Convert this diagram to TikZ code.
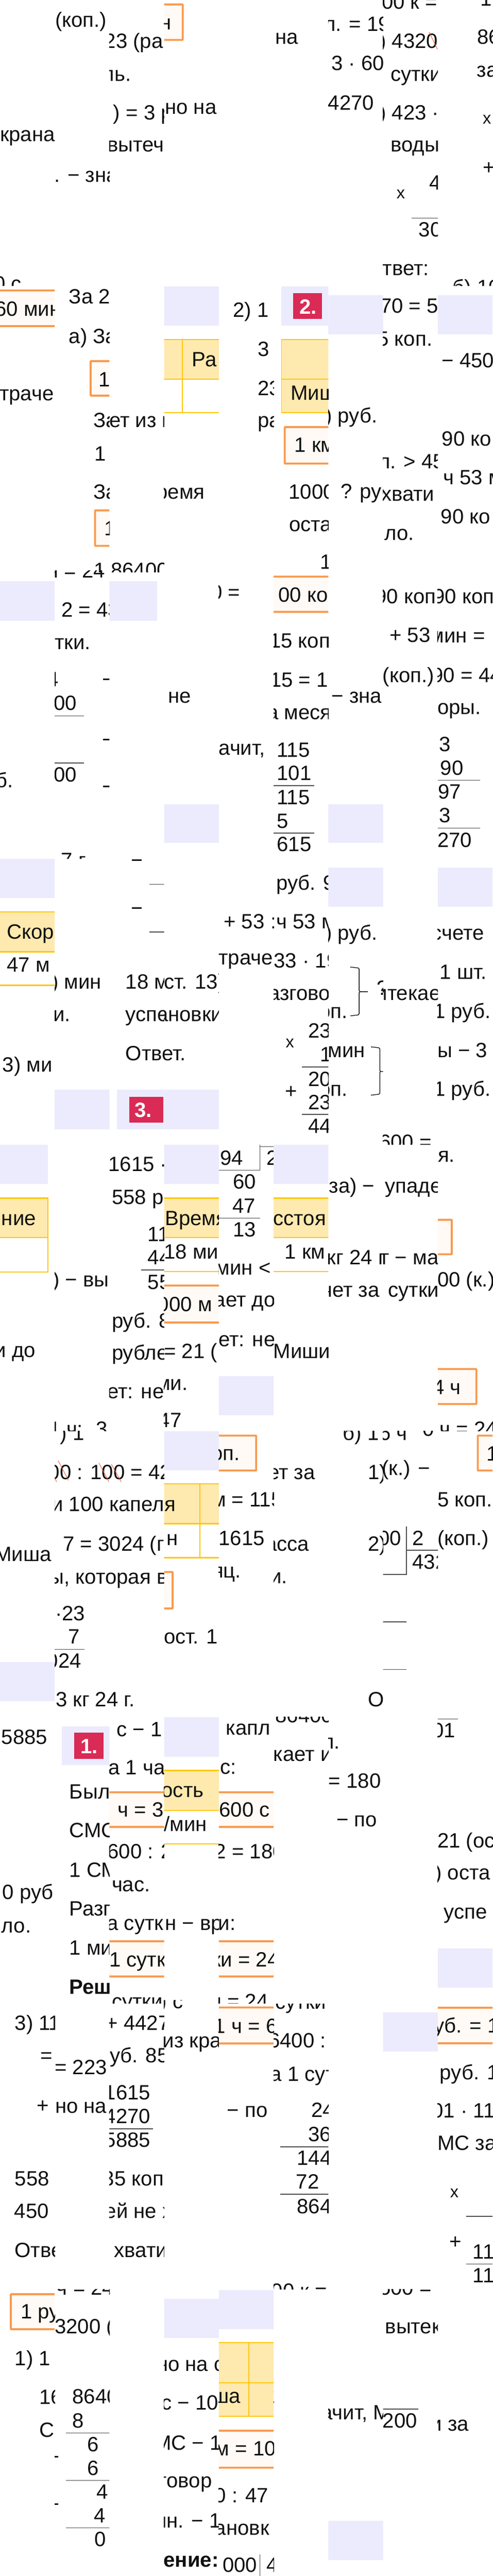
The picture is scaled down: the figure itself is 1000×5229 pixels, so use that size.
\documentclass[tikz,border=0pt]{standalone}
\usepackage{fontspec}
\setmainfont{Liberation Sans}
\definecolor{lav}{HTML}{ECEBFD}
\definecolor{yel}{HTML}{FEE9AE}
\definecolor{yelb}{HTML}{FFC60B}
\definecolor{ora}{HTML}{F99A4E}
\definecolor{orf}{HTML}{FFFAF5}
\definecolor{rbox}{HTML}{D92B55}
\definecolor{strike}{HTML}{F0583C}
\definecolor{ink}{HTML}{111111}
\newcounter{tn}
\tikzset{
 x=1pt,y=-1pt,
 tx/.style={anchor=base west,inner sep=0pt,outer sep=0pt,text=ink,font=\fontsize{42}{50}\selectfont},
 txb/.style={tx,font=\fontsize{42}{50}\selectfont\bfseries},
 txw/.style={anchor=base west,inner sep=0pt,text=white,font=\fontsize{42}{50}\selectfont\bfseries},
 txx/.style={tx,font=\fontsize{34}{38}\selectfont},
 obox/.style={draw=ora,line width=4pt,fill=orf,rounded corners=1pt},
 yline/.style={draw=yelb,line width=2.4pt},
 yvert/.style={draw=yelb,line width=2pt},
 mline/.style={draw=black!70,line width=1.5pt},
 brace/.style={draw=ink,line width=1.4pt,rounded corners=2pt},
 slash/.style={draw=strike,line width=1pt}
}
\newcommand\T[3]{\stepcounter{tn}\node[tx] (t\thetn) at (#1,#2) {#3};}
\newcommand\TB[3]{\stepcounter{tn}\node[txb] (t\thetn) at (#1,#2) {#3};}
\newcommand\TW[3]{\stepcounter{tn}\node[txw] (t\thetn) at (#1,#2) {#3};}
\newcommand\TX[2]{\stepcounter{tn}\node[txx] (t\thetn) at (#1,#2) {x};}
\newcommand\Tc[5]{\begin{scope}\clip (-50,#1) rectangle (1050,#2);\stepcounter{tn}\node[tx] (t\thetn) at (#3,#4) {#5};\end{scope}}
\newcommand\Lav[4]{\fill[lav] (#1,#3) rectangle (#2,#4);}
\newcommand\Yel[4]{\fill[yel] (#1,#3) rectangle (#2,#4);}
\newcommand\Hl[3]{\draw[mline] (#1,#3) -- (#2,#3);}
\newcommand\Yl[3]{\draw[yline] (#1,#3) -- (#2,#3);}
\newcommand\Oband[4]{\draw[obox] (#1,#3) rectangle (#2,#4);}
\newcommand\Dash[3]{\fill[ink] (#1,#3-1.5) rectangle (#2,#3+1.5);}
\newenvironment{colm}[1]{\begin{scope}\clip ({#1*111.111},0) rectangle ({(#1+1)*111.111},5229);}{\end{scope}}
\begin{document}
\begin{tikzpicture}
\useasboundingbox (0,0) rectangle (1000,5229);
\fill[white] (0,0) rectangle (1000,5229);

% ---------- column 0
\begin{colm}{0}
\Lav{-5}{120}{1180}{1260}
\Lav{-5}{120}{1743}{1823}
\Lav{-5}{97}{2324}{2403}
\Lav{-5}{120}{3374}{3453}
\Oband{-20}{130}{589.5}{662}
\Yel{-5}{120}{1850}{1933}
\Yl{-5}{120}{1851}\Yl{-5}{120}{1932}\Yl{-5}{120}{2000}
\Yel{-5}{97}{2431}{2513}
\Yl{-5}{98}{2432}\Yl{-5}{98}{2512}\Yl{-5}{98}{2582}
\draw[yvert] (97,2431) -- (97,2582);
\Oband{22}{300}{4657}{4728}
\Tc{500}{580}{-12}{590}{0 с}
\T{-10}{642}{60 мин}
\T{0}{287}{крана}
\T{-1}{813}{траче}
\T{-9}{1599}{б.}
\T{14}{1906}{Скор}
\T{14}{1973}{47 м}
\T{5}{2176}{3) ми}
\T{3}{2487}{ние}
\T{-11}{2755}{и до}
\T{-11}{3169}{Миша}
\T{3}{3540}{5885}
\T{5}{3855}{0 руб}
\T{3}{3923}{ло.}
\T{30}{4121}{3) 11}
\T{82}{4187}{=}
\T{75}{4288}{+}
\T{30}{4437}{558}
\T{29}{4503}{450}
\T{30}{4582}{Ответ}
\T{42}{4707}{1 руб}
\T{30}{4802}{1) 1}
\T{80}{4880}{16}
\T{80}{4947}{СМ}
\end{colm}

% ---------- column 1
\begin{colm}{1}
\Lav{100}{240}{2212}{2292}
\Lav{126}{240}{3504}{3583}
\fill[rbox] (151,3517) rectangle (210,3570);
\draw[obox] (184,733) rectangle (300,803);
\draw[obox] (193,1036) rectangle (300,1108);
\T{112}{55}{(коп.)}
\T{110}{370}{. − зна}
\T{140}{616}{За 2}
\T{140}{697}{а) За}
\T{200}{785}{1}
\T{190}{868}{За}
\T{192}{935}{1}
\T{190}{1013}{За}
\T{212}{1087}{1}
\Tc{1100}{1161}{191}{1172}{1}
\Tc{1158}{1200}{97}{1173}{ч = 24}
\T{125}{1252}{2 = 43}
\T{111}{1318}{тки.}
\T{96}{1393}{4}
\T{109}{1442}{00}
\Hl{100}{170}{1453}
\Hl{100}{170}{1549}
\T{109}{1587}{00}
\Dash{209}{230}{1379}\Dash{209}{230}{1501}\Dash{209}{230}{1596}
\Tc{1700}{1743}{124}{1761}{7 г}
\T{105}{2007}{) мин}
\T{108}{2073}{и.}
\T{107}{2612}{) − вы}
\Tc{2860}{2905}{100}{2915}{1 ч:}
\Tc{2860}{2905}{195}{2915}{3}
\Tc{2905}{2960}{122}{2923}{) 1}
\T{98}{3003}{00 : 100 = 42}
\T{105}{3068}{и 100 капеля}
\draw[slash] (118,2965) -- (139,3005);
\draw[slash] (111,3000) -- (115,3008);
\draw[slash] (201,2970) -- (221,3008);
\T{128}{3148}{7 = 3024 (г}
\T{100}{3215}{ы, которая в}
\T{112}{3290}{·23}
\T{139}{3337}{7}
\Hl{100}{172}{3348}
\T{95}{3386}{024}
\T{113}{3464}{3 кг 24 г.}
\TW{163}{3559}{1.}
\T{141}{3651}{Было}
\T{141}{3730}{СМС}
\T{141}{3810}{1 СМС}
\T{141}{3889}{Разг}
\T{141}{3968}{1 ми}
\TB{141}{4048}{Реш}
\T{111}{4211}{= 223}
\T{112}{4289}{но на}
\Tc{4647}{4700}{115}{4658}{ч = 24}
\T{111}{4737}{3200 (}
\T{147}{4879}{86400}
\T{147}{4928}{8}
\Hl{134}{240}{4939}
\T{177}{4976}{6}
\Dash{111}{118}{4987}
\T{177}{5024}{6}
\Hl{134}{240}{5035}
\T{196}{5073}{4}
\Dash{111}{118}{5083}
\T{191}{5121}{4}
\Hl{134}{240}{5131}
\T{192}{5169}{0}
\end{colm}

% ---------- column 2
\begin{colm}{2}
\Lav{222}{319}{1180}{1260}
\Lav{237}{350}{2212}{2292}
\fill[rbox] (262,2226) rectangle (332,2279);
\Oband{200}{350}{3638}{3708.5}
\Oband{200}{350}{3940.5}{4012}
\T{212}{98}{23 (ра}
\T{208}{165}{ль.}
\T{230}{243}{) = 3 р}
\T{218}{308}{вытеч}
\T{222}{868}{ет из к}
\Tc{1100}{1161}{225}{1172}{86400}
\Dash{268}{288}{1746}\Dash{268}{288}{1843}
\Hl{303}{340}{1795}\Hl{303}{340}{1892}
\T{255}{2007}{18 м}
\T{255}{2073}{успел}
\T{255}{2153}{Ответ.}
\TW{273}{2268}{3.}
\T{220}{2378}{1615 ·}
\T{227}{2445}{558 р}
\T{300}{2520}{11}
\T{300}{2567}{44}
\Hl{287}{340}{2578}
\T{300}{2617}{55}
\T{227}{2695}{руб. 8}
\T{227}{2760}{рубле}
\T{218}{2839}{ет: не}
\T{98}{3003}{00 : 100 = 42}
\draw[slash] (201,2970) -- (221,3008);
\draw[slash] (226,2972) -- (246,3008);
\T{105}{3068}{и 100 капеля}
\T{128}{3148}{7 = 3024 (г}
\T{100}{3215}{ы, которая в}
\T{113}{3464}{3 кг 24 г.}
\T{237}{3525}{с − 1}
\T{220}{3602}{а 1 час}
\T{239}{3688}{ч = 36}
\T{218}{3773}{600 : 2}
\T{227}{3840}{час.}
\T{217}{3918}{а сутк}
\T{222}{3992}{1 сутк}
\Tc{4000}{4067}{227}{4077}{сутки}
\T{215}{4121}{+ 4427}
\T{200}{4187}{руб. 85}
\T{212}{4262}{1615}
\T{212}{4310}{4270}
\Hl{210}{311}{4321}
\T{212}{4358}{5885}
\T{209}{4437}{35 коп}
\T{213}{4503}{ей не х}
\T{232}{4582}{хвати}
\end{colm}

% ---------- column 3
\begin{colm}{3}
\draw[obox] (300,9) rectangle (371,81);
\Lav{320}{450}{581}{661}
\Yel{320}{450}{688}{770}
\Yl{320}{450}{689}\Yl{320}{450}{770}\Yl{320}{450}{838}
\draw[yvert] (370,688) -- (370,838);
\Lav{320}{450}{1632}{1711}
\Lav{320}{450}{2212}{2292}
\Lav{320}{450}{2324}{2403}
\Yel{320}{450}{2431}{2513}
\Yl{320}{450}{2432}\Yl{320}{450}{2512}\Yl{320}{450}{2581}
\Oband{300}{460}{2609.5}{2684.5}
\Lav{320}{450}{2905}{2985}
\Yel{320}{450}{3011}{3093}
\Yl{320}{450}{3012}\Yl{320}{450}{3093}\Yl{320}{450}{3162}
\draw[yvert] (406,3011) -- (406,3162);
\draw[obox] (300,3191) rectangle (350.5,3265);
\Lav{320}{450}{3486}{3566}
\Yel{320}{450}{3593}{3675}
\Yl{320}{450}{3594}\Yl{320}{450}{3675}\Yl{320}{450}{3743}
\Lav{320}{450}{4666}{4746}
\T{325}{60}{н}
\T{335}{232}{но на}
\T{390}{744}{Ра}
\T{295}{1013}{время}
\T{341}{1427}{не}
\T{333}{2007}{ст. 13)}
\T{318}{2073}{ановки}
\T{255}{2153}{Ответ.}
\T{335}{2487}{Время}
\T{333}{2555}{18 мин}
\T{320}{2662}{000 м}
\T{333}{2757}{= 21 (}
\T{317}{2822}{ми.}
\T{322}{2897}{47}
\T{105}{3068}{и 100 капеля}
\T{338}{3137}{н}
\T{333}{3337}{ост. 1}
\T{328}{3648}{ость}
\T{333}{3717}{/мин}
\T{335}{3918}{н − вр}
\Tc{4060}{4085}{325}{4077}{) с}
\T{330}{4156}{из кра}
\T{318}{4813}{но на с}
\T{328}{4892}{с − 10}
\T{313}{4973}{МС − 1}
\T{324}{5050}{говор}
\T{315}{5131}{ин. − 1}
\TB{297}{5211}{шение:}
\end{colm}

% ---------- column 4
\begin{colm}{4}
\Lav{430}{560}{2793}{2873}
\draw[obox] (400,2914) rectangle (520,2985);
\Oband{430}{570}{3638}{3708.5}
\Oband{430}{570}{3940.5}{4012}
\Oband{430}{570}{4075}{4148}
\Lav{430}{560}{4648}{4728}
\Yel{430}{560}{4754}{4905}
\Yl{430}{560}{4755}\Yl{430}{560}{4837}\Yl{430}{560}{4905}
\draw[yvert] (505,4754) -- (505,4905);
\Oband{430}{570}{4934}{5009}
\T{473}{644}{2) 1}
\T{523}{723}{3}
\T{523}{803}{23}
\T{523}{868}{ра}
\T{428}{1217}{0 =}
\T{444}{1533}{ачит,}
\T{454}{1885}{+ 53}
\T{550}{1885}{:}
\T{444}{1958}{траче}
\draw[mline,line width=1pt] (528,2327) -- (560,2327);
\draw[mline,line width=1pt] (528,2324) -- (528,2376) -- (430,2376);
\T{447}{2365}{94}
\T{541}{2365}{2}
\T{473}{2413}{60}
\T{472}{2462}{47}
\Hl{430}{528}{2473}
\T{473}{2510}{13}
\T{438}{2588}{мин <}
\T{435}{2653}{ает до}
\T{444}{2733}{ет: не}
\T{410}{2964}{коп.}
\T{430}{3058}{м = 115}
\T{444}{3137}{1615}
\T{431}{3203}{яц.}
\T{459}{3522}{капл}
\T{447}{3601}{с:}
\T{445}{3688}{600 с}
\T{436}{3773}{2 = 180}
\T{425}{3918}{ки:}
\T{430}{3992}{ки = 24}
\Tc{4000}{4067}{428}{4077}{ч = 24}
\T{435}{4127}{1 ч = 60}
\T{461}{4298}{− по}
\T{373}{4878}{Миша}
\T{553}{4878}{1}
\T{437}{4985}{м = 10}
\T{436}{5080}{0 : 47}
\T{436}{5146}{ановк}
\T{452}{5221}{000}
\draw[mline,line width=1pt] (528,5185) -- (528,5229);
\T{541}{5221}{4}
\end{colm}

% ---------- column 5
\begin{colm}{5}
\Lav{571}{680}{581}{661}
\fill[rbox] (595,595) rectangle (654,647);
\Yel{571}{680}{688}{838}
\Yl{571}{680}{689}\Yl{571}{680}{770}\Yl{571}{680}{838}
\draw[yvert] (571.5,688) -- (571.5,838);
\draw[obox] (578,867) rectangle (700,941);
\Oband{540}{680}{1170.5}{1242}
\Lav{540}{680}{2324}{2403}
\Yel{540}{680}{2431}{2513}
\Yl{540}{680}{2432}\Yl{540}{680}{2512}\Yl{540}{680}{2581}
\T{535}{89}{ина}
\TW{608}{637}{2.}
\T{590}{812}{Миша}
\T{598}{918}{1 км}
\T{586}{1013}{1000}
\T{587}{1079}{оста}
\T{650}{1155}{1}
\T{565}{1222}{00 коп}
\T{547}{1315}{15 коп}
\T{548}{1395}{15 = 1}
\T{542}{1460}{а меся}
\T{562}{1537}{115}
\T{562}{1584}{101}
\Hl{540}{638}{1595}
\T{562}{1633}{115}
\T{562}{1681}{5}
\Hl{540}{638}{1691}
\T{562}{1728}{615}
\T{561}{1807}{руб. 9}
\T{561}{1885}{ч 53 м}
\T{556}{1964}{33 · 19}
\T{522}{2030}{разговор}
\T{626}{2107}{23}
\TX{580}{2127}
\T{650}{2155}{1}
\Hl{613}{680}{2166}
\T{626}{2205}{20}
\T{579}{2229}{+}
\T{626}{2252}{23}
\Hl{613}{680}{2262}
\T{626}{2300}{44}
\T{555}{2487}{сстоя}
\T{578}{2555}{1 км}
\T{555}{2757}{Миши}
\T{544}{3003}{ет за}
\T{510}{3148}{масса}
\T{548}{3214}{и.}
\Tc{3485}{3520}{559}{3497}{86400}
\T{555}{3575}{кает и}
\Tc{4068}{4100}{559}{4078}{сутки}
\T{545}{4157}{6400 :}
\T{549}{4224}{а 1 сут}
\T{632}{4298}{24}
\T{626}{4347}{36}
\Hl{569}{680}{4358}
\T{603}{4395}{144}
\T{601}{4443}{72}
\Hl{569}{680}{4454}
\T{603}{4493}{864}
\Tc{4600}{4647}{551}{4665}{00 к =}
\end{colm}

% ---------- column 6
\begin{colm}{6}
\Lav{650}{790}{599}{679}
\Lav{650}{790}{1632}{1711}
\Lav{650}{790}{1761}{1841}
\Lav{650}{790}{5117}{5197}
\T{657}{63}{л. = 19}
\T{673}{143}{3 · 60}
\T{666}{223}{4270}
\T{660}{858}{) руб.}
\T{692}{1012}{? руб.}
\T{673}{1427}{− зна}
\T{660}{1908}{) руб.}
\draw[brace] (711,1963) -- (729,1965) -- (729,2013) -- (748,2013) -- (729,2013) -- (729,2060) -- (711,2062);
\T{765}{2020}{?}
\T{666}{2147}{мин}
\T{629}{2067}{коп.}
\draw[brace] (753,2125) -- (771,2127) -- (771,2175) -- (785,2175) -- (771,2175) -- (771,2221) -- (753,2223);
\T{629}{2225}{коп.}
\T{668}{2422}{за) −}
\T{664}{2567}{кг 24 г}
\T{653}{2633}{чет за}
\Tc{2905}{2960}{696}{2923}{б) 1}
\T{747}{3003}{1)}
\T{747}{3148}{2)}
\T{747}{3464}{От}
\T{654}{3550}{л.}
\T{667}{3629}{= 180}
\T{683}{3708}{− по}
\T{652}{4912}{ачит, М}
\end{colm}

% ---------- column 7
\begin{colm}{7}
\Lav{760}{900}{4085}{4164}
\T{775}{18}{00 к =}
\T{770}{98}{) 4320}
\draw[slash] (871,65) -- (888,100);
\T{793}{165}{сутки}
\T{770}{243}{) 423 · 1}
\T{793}{308}{воды}
\T{872}{385}{4}
\TX{805}{403}
\Hl{836}{900}{443}
\T{850}{481}{300}
\T{777}{559}{твет:}
\T{772}{635}{70 = 5}
\T{766}{702}{5 коп.}
\T{768}{951}{л. > 45}
\T{774}{1017}{хвати}
\T{757}{1096}{ило.}
\T{762}{1225}{90 коп}
\T{791}{1304}{+ 53 ми}
\T{777}{1385}{(коп.)}
\T{763}{2030}{итекает}
\Tc{2200}{2323}{770}{2333}{600 =}
\T{782}{2422}{упаде}
\T{775}{2567}{г − ма}
\T{788}{2633}{сутки}
\Tc{2905}{2960}{770}{2923}{6 ч}
\Tc{2905}{2960}{858}{2915}{0}
\T{775}{2995}{(к.) −}
\T{768}{3137}{00}
\draw[mline] (825,3099) -- (825,3196) -- (770,3196);
\Hl{825}{900}{3147}
\T{837}{3137}{2}
\T{837}{3185}{432}
\Hl{770}{825}{3292}
\Hl{770}{825}{3389}
\Tc{4647}{4700}{770}{4658}{500 =}
\T{782}{4737}{вытек}
\Hl{770}{849}{4890}
\T{777}{4928}{200}
\end{colm}

% ---------- column 8
\begin{colm}{8}
\Lav{880}{1010}{599}{679}
\Lav{880}{1010}{1761}{1841}
\Lav{880}{1010}{3955}{4035}
\draw[obox] (800,2476) rectangle (917,2546);
\draw[obox] (800,2779) rectangle (967,2850);
\draw[obox] (970,2914) rectangle (1100,2985);
\Oband{870}{1020}{4075.5}{4147.5}
\T{975}{12}{1}
\T{969}{89}{86}
\T{968}{156}{за}
\TX{980}{252}
\T{980}{354}{+}
\Tc{500}{580}{919}{598}{б) 10}
\T{897}{746}{− 450}
\T{897}{905}{90 ко}
\T{900}{984}{ч 53 м}
\T{895}{1063}{90 ко}
\T{880}{1225}{90 коп}
\T{873}{1305}{мин =}
\T{877}{1385}{90 = 44}
\T{888}{1450}{оры.}
\T{892}{1525}{3}
\T{894}{1573}{90}
\Hl{880}{975}{1584}
\T{889}{1622}{97}
\T{892}{1670}{3}
\Hl{880}{975}{1681}
\T{888}{1720}{270}
\T{876}{1908}{счете}
\T{893}{1987}{1 шт.}
\T{881}{2067}{1 руб.}
\T{888}{2147}{ы − 3}
\T{881}{2225}{1 руб.}
\T{889}{2359}{я.}
\T{888}{2612}{00 (к.)}
\T{879}{2830}{4 ч}
\Tc{2860}{2905}{893}{2915}{ч = 24}
\T{988}{2965}{1}
\T{888}{3058}{5 коп.}
\T{888}{3137}{(коп.)}
\Hl{880}{930}{3489}
\T{878}{3527}{01}
\T{888}{3751}{21 (ос}
\T{883}{3816}{) оста}
\T{901}{3895}{успе}
\T{858}{4126}{руб. = 1}
\T{893}{4221}{руб. 1}
\T{877}{4299}{01 · 11}
\T{888}{4365}{МС за}
\TX{914}{4461}
\Hl{946}{1010}{4499}
\T{912}{4564}{+}
\T{960}{4585}{11}
\Hl{946}{1010}{4596}
\T{960}{4633}{11}
\T{874}{4935}{и за}
\end{colm}
\end{tikzpicture}
\end{document}
